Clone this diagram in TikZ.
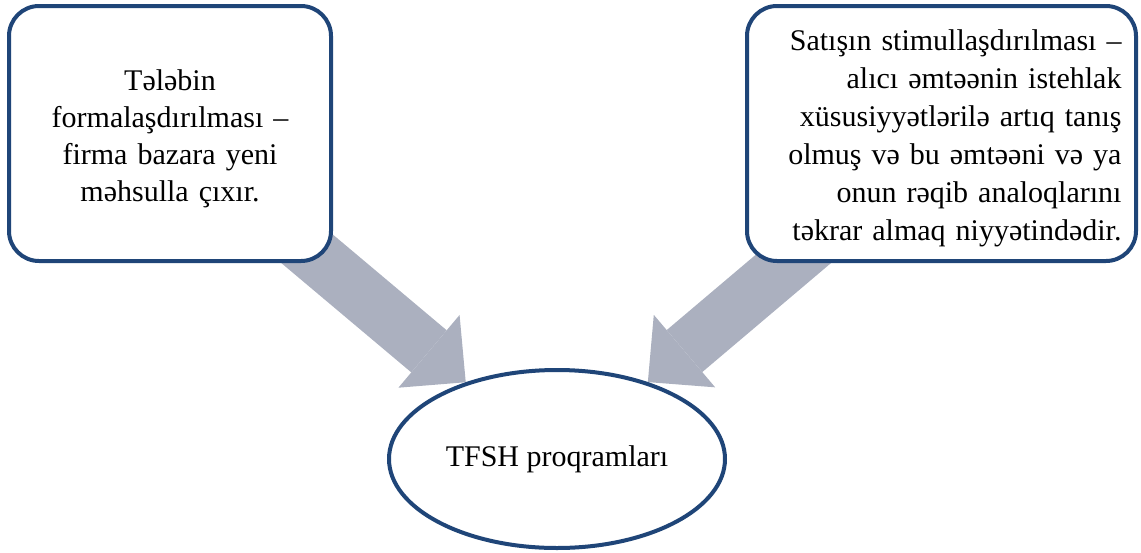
\documentclass[tikz,border=0pt]{standalone}
\usepackage{fontspec}
\setmainfont{Liberation Serif}
\usepackage{tikz}
\usetikzlibrary{arrows.meta,shapes.geometric,backgrounds}

\begin{document}
\begin{tikzpicture}[x=.5pt,y=-.5pt,
  boxframe/.style={draw={rgb,255:red,31;green,69;blue,120},line width=2pt,fill=white,rounded corners=15pt,minimum height=127.5pt,inner sep=0pt,font=\fontsize{15}{18.5}\selectfont},
  ovalframe/.style={ellipse,draw={rgb,255:red,31;green,69;blue,120},line width=2pt,fill=white,minimum width=168pt,minimum height=89pt,inner sep=0pt,font=\fontsize{15}{18.5}\selectfont},
  bigarrow/.style={draw={rgb,255:red,171;green,176;blue,191},line width=27.5pt,-{Triangle[width=47.5pt,length=24pt,line width=0pt]}}]
\useasboundingbox (0,0) rectangle (1141,552);
\node[boxframe,minimum width=161pt,text width=150pt,align=center] (demand) at (170,133.5) {\rule{0pt}{16pt}Tələbin\\formalaşdırılması –\\firma bazara yeni\\məhsulla çıxır.};
\node[boxframe,minimum width=194.5pt,text width=180pt,align=right,font=\fontsize{15}{19}\selectfont] (sales) at (941.5,133.5) {\rule{0pt}{15pt}Satışın stimullaşdırılması –\\alıcı əmtəənin istehlak\\xüsusiyyətlərilə artıq tanış\\olmuş və bu əmtəəni və ya\\onun rəqib analoqlarını\\təkrar almaq niyyətindədir.};
\node[ovalframe] (tfsh) at (557,459) {TFSH proqramları};
\begin{scope}[on background layer]
\draw[bigarrow] (demand.center) -- (tfsh);
\draw[bigarrow] (sales.center) -- (tfsh);
\end{scope}
\end{tikzpicture}
\end{document}
